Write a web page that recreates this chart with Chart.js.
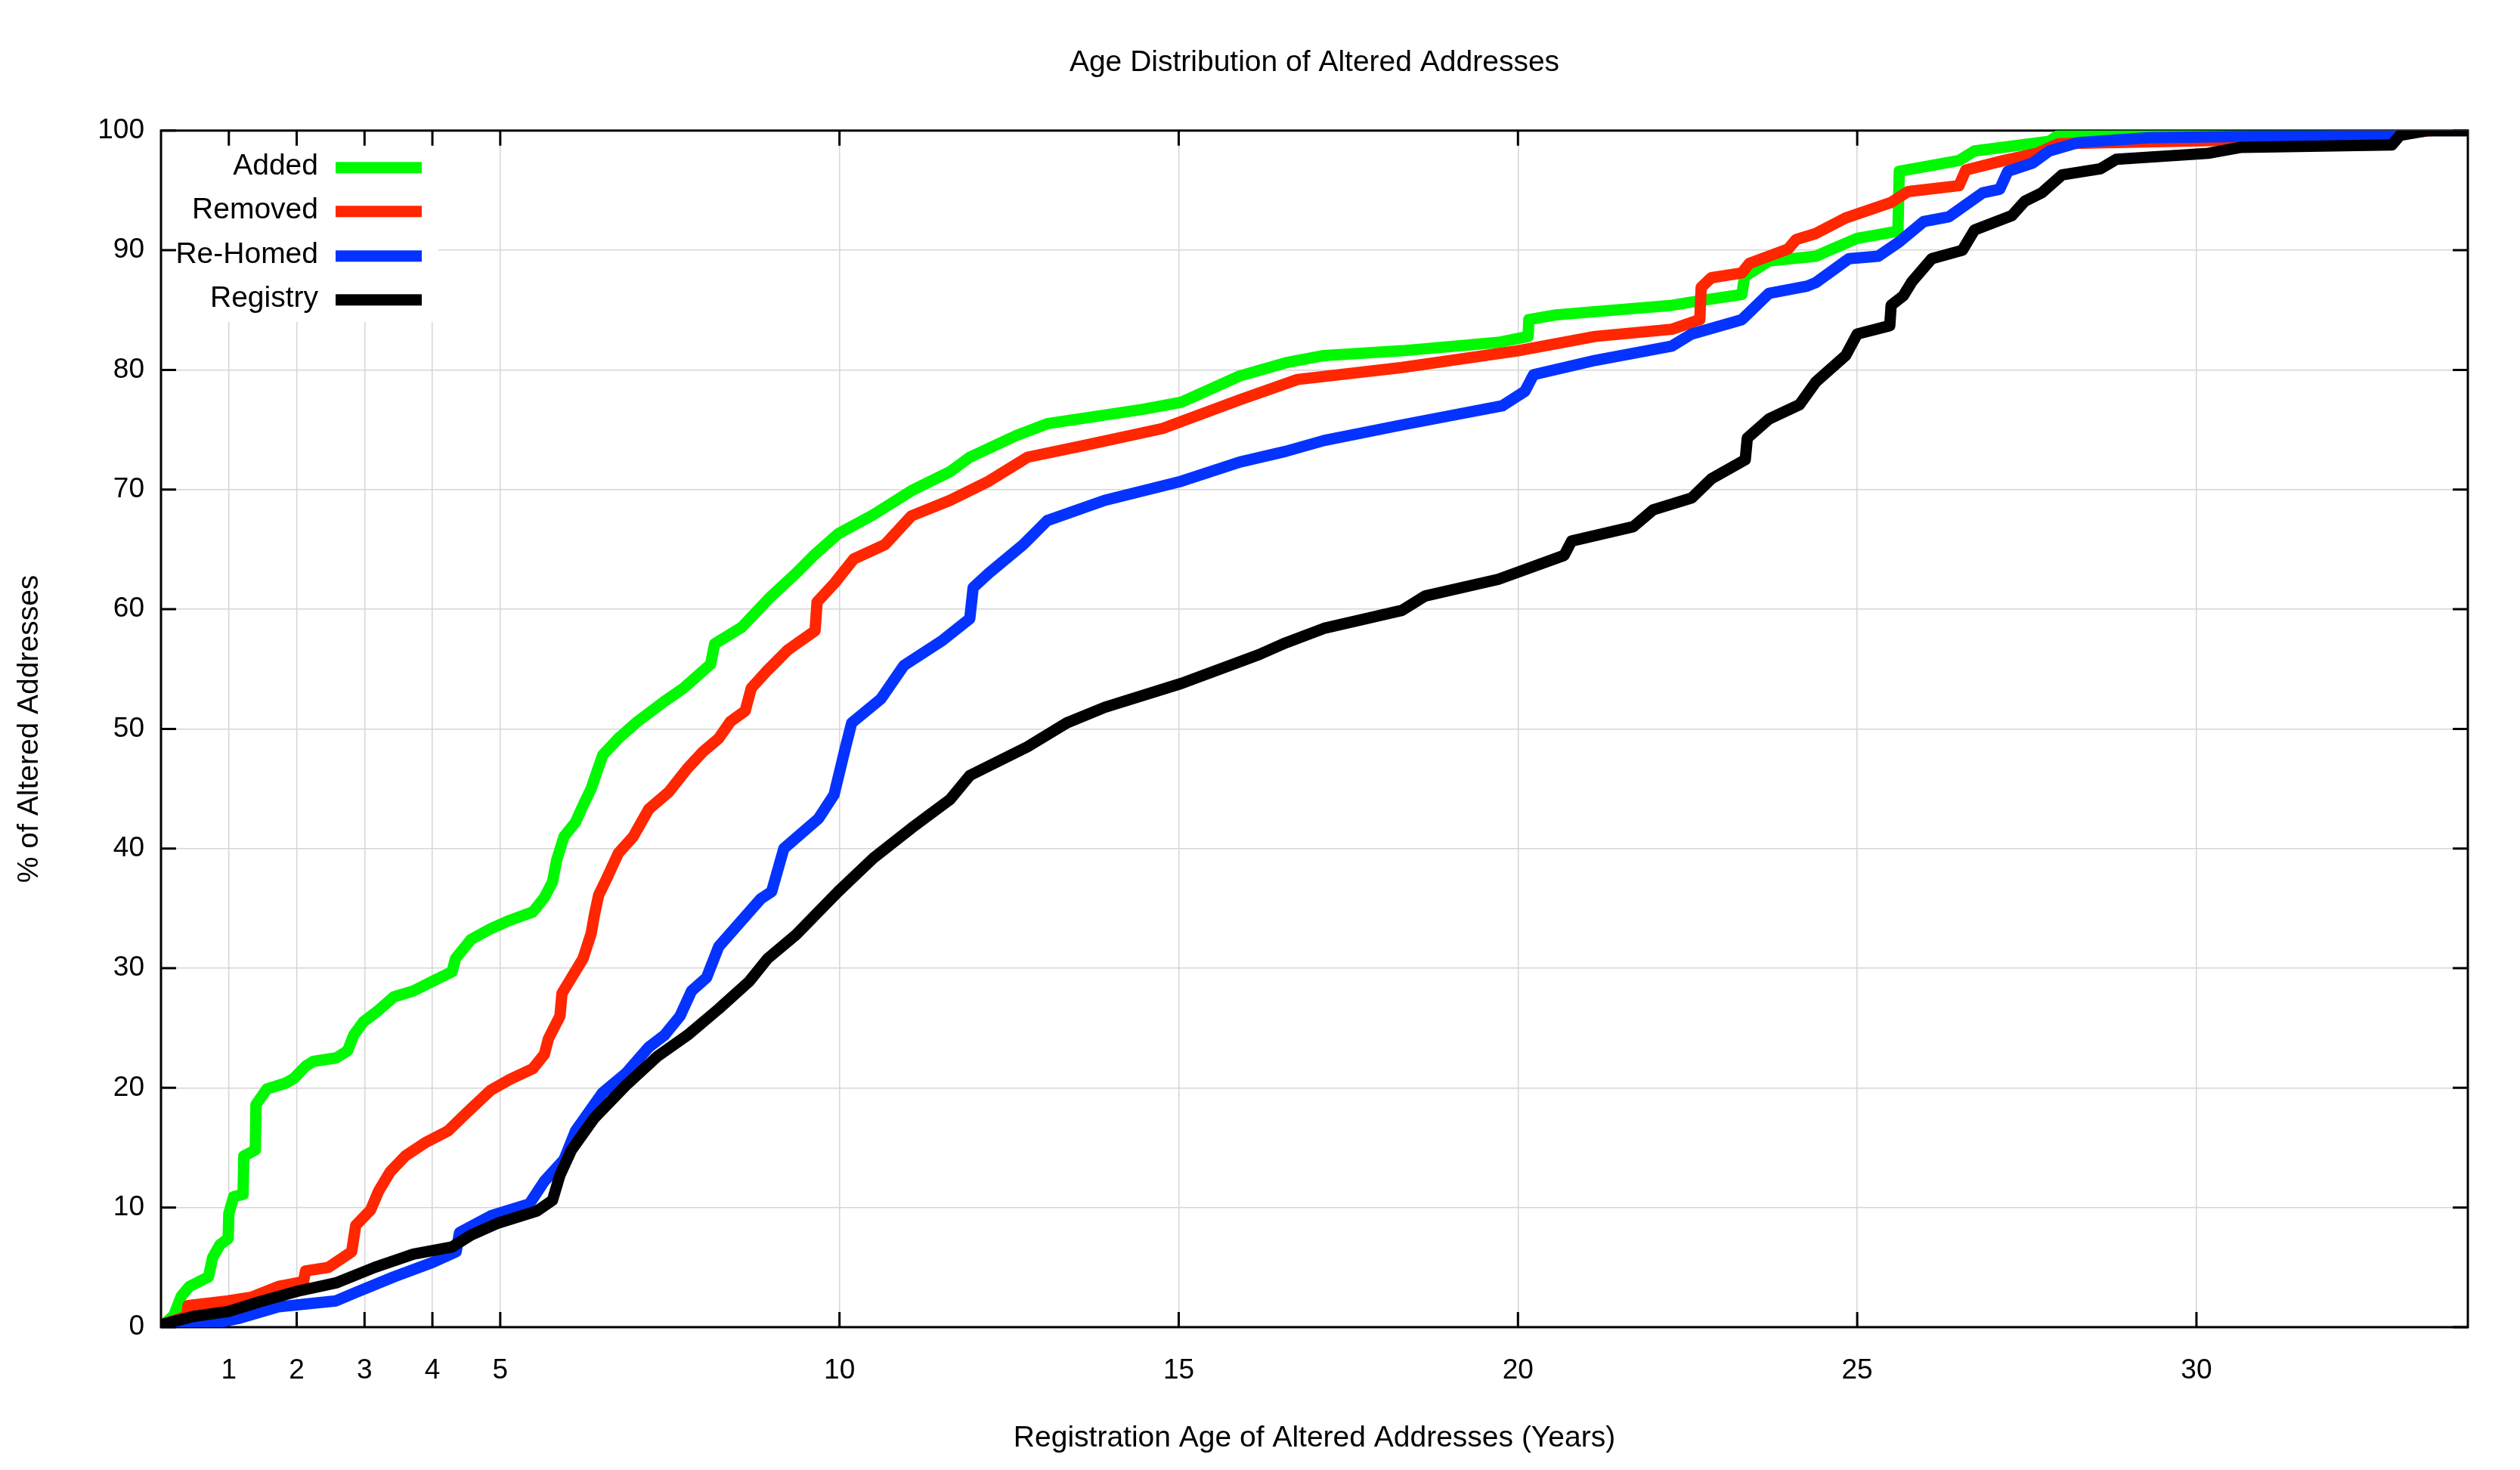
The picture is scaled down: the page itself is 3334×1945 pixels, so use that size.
<!DOCTYPE html>
<html>
<head>
<meta charset="utf-8">
<title>Age Distribution of Altered Addresses</title>
<script src="https://cdn.jsdelivr.net/npm/chart.js@4.4.1/dist/chart.umd.min.js"></script>
<style>
    html, body { margin: 0; padding: 0; background: #fff; }
    canvas { display: block; }
</style>
</head>
<body>
<canvas id="grafico" width="3334" height="1945"></canvas>
<script>
// ==========================
// DADOS
// ==========================
const xTicks = [1, 2, 3, 4, 5, 10, 15, 20, 25, 30];

const addedAge = [0, 0.19, 0.3, 0.42, 0.7, 0.76, 0.87, 0.99, 1.0, 1.07, 1.21, 1.22, 1.39, 1.4, 1.56, 1.84, 1.96, 2.13, 2.24, 2.58, 2.75, 2.84, 2.98, 3.21, 3.43, 3.72, 4.0, 4.29, 4.34, 4.57, 4.86, 5.14, 5.48, 5.65, 5.77, 5.83, 5.94, 6.11, 6.22, 6.34, 6.51, 6.74, 7.02, 7.42, 7.7, 8.1, 8.16, 8.56, 8.96, 9.36, 9.64, 9.98, 10.5, 11.06, 11.63, 11.92, 12.6, 13.06, 14.47, 15.04, 15.9, 16.58, 17.14, 18.29, 19.71, 20.15, 20.16, 20.56, 22.27, 22.7, 23.3, 23.34, 23.7, 24.39, 24.55, 25.0, 25.6, 25.62, 26.5, 26.73, 27.83, 27.96, 29.3, 31.0, 34];
const addedPct = [0, 1.0, 2.6, 3.4, 4.2, 5.8, 6.9, 7.4, 9.5, 10.9, 11.1, 14.3, 14.8, 18.6, 19.9, 20.4, 20.8, 21.8, 22.2, 22.5, 23.1, 24.4, 25.5, 26.5, 27.6, 28.1, 28.9, 29.7, 30.8, 32.4, 33.3, 34.0, 34.7, 35.9, 37.2, 39.0, 41.0, 42.2, 43.6, 45.0, 47.8, 49.2, 50.6, 52.3, 53.4, 55.4, 57.1, 58.5, 60.9, 63.0, 64.6, 66.3, 67.9, 69.9, 71.5, 72.7, 74.5, 75.5, 76.7, 77.3, 79.5, 80.6, 81.2, 81.6, 82.3, 82.8, 84.2, 84.6, 85.4, 85.8, 86.3, 87.8, 89.1, 89.5, 89.9, 91.0, 91.6, 96.6, 97.5, 98.3, 99.1, 99.6, 99.8, 100, 100];

const removedAge = [0, 0.3, 0.38, 0.4, 0.99, 1.33, 1.73, 2.1, 2.13, 2.47, 2.81, 2.87, 3.09, 3.21, 3.38, 3.6, 3.89, 4.23, 4.52, 4.86, 5.14, 5.48, 5.65, 5.71, 5.88, 5.91, 6.05, 6.22, 6.34, 6.39, 6.45, 6.57, 6.74, 6.96, 7.19, 7.48, 7.76, 7.99, 8.22, 8.39, 8.61, 8.7, 8.94, 9.24, 9.64, 9.67, 9.93, 10.21, 10.67, 11.06, 11.63, 12.2, 12.77, 13.62, 14.76, 15.9, 16.75, 18.29, 20.0, 21.14, 22.27, 22.68, 22.7, 22.85, 23.3, 23.41, 23.98, 24.1, 24.39, 24.83, 25.5, 25.75, 26.5, 26.6, 27.16, 27.65, 27.96, 28.7, 30.5, 33.0, 33.5, 34];
const removedPct = [0.2, 0.75, 1.0, 1.8, 2.2, 2.5, 3.4, 3.8, 4.7, 5.0, 6.3, 8.5, 9.8, 11.4, 13.0, 14.3, 15.4, 16.4, 18.0, 19.8, 20.7, 21.6, 22.8, 24.1, 26.0, 27.9, 29.2, 30.8, 32.9, 34.5, 36.1, 37.5, 39.6, 41.0, 43.3, 44.7, 46.7, 48.1, 49.2, 50.6, 51.5, 53.4, 54.9, 56.6, 58.2, 60.6, 62.2, 64.2, 65.4, 67.8, 69.1, 70.7, 72.7, 73.7, 75.1, 77.5, 79.2, 80.2, 81.6, 82.8, 83.4, 84.2, 86.9, 87.7, 88.1, 88.9, 90.1, 90.9, 91.4, 92.7, 94.0, 94.9, 95.4, 96.7, 97.5, 98.1, 98.9, 99.0, 99.2, 99.8, 100, 100];

const rehomedAge = [0, 0.59, 1.16, 1.73, 2.58, 2.87, 3.43, 4.0, 4.35, 4.4, 4.86, 5.43, 5.65, 5.94, 6.11, 6.51, 6.85, 7.19, 7.42, 7.65, 7.82, 8.04, 8.22, 8.56, 8.84, 9.0, 9.18, 9.69, 9.92, 10.09, 10.18, 10.61, 10.95, 11.52, 11.92, 11.97, 12.2, 12.71, 13.06, 13.91, 15.04, 15.9, 16.58, 17.14, 18.29, 19.77, 20.1, 20.23, 21.14, 22.27, 22.56, 23.3, 23.7, 24.26, 24.39, 24.88, 25.31, 25.62, 25.98, 26.35, 26.85, 27.1, 27.22, 27.59, 27.83, 28.26, 29.3, 30.5, 32.7, 33.3, 34];
const rehomedPct = [0, 0.1, 0.75, 1.7, 2.2, 2.9, 4.2, 5.4, 6.3, 7.9, 9.3, 10.3, 12.2, 14.0, 16.4, 19.6, 21.2, 23.4, 24.4, 26.0, 28.1, 29.2, 31.8, 34.0, 35.8, 36.4, 40.0, 42.5, 44.5, 48.5, 50.5, 52.5, 55.3, 57.4, 59.2, 61.8, 63.0, 65.4, 67.4, 69.1, 70.7, 72.3, 73.2, 74.1, 75.4, 77.0, 78.2, 79.6, 80.8, 82.0, 83.0, 84.2, 86.4, 87.0, 87.3, 89.3, 89.5, 90.7, 92.4, 92.8, 94.8, 95.1, 96.6, 97.3, 98.3, 99.0, 99.4, 99.5, 99.6, 100, 100];

const registryAge = [0, 0.48, 0.99, 1.44, 2.01, 2.58, 3.15, 3.72, 4.29, 4.57, 4.97, 5.54, 5.77, 5.88, 6.05, 6.39, 6.85, 7.31, 7.76, 8.22, 8.67, 8.94, 9.36, 9.98, 10.5, 11.06, 11.63, 11.92, 12.77, 13.35, 13.91, 15.04, 16.18, 16.58, 17.14, 18.29, 18.63, 19.71, 20.68, 20.79, 21.7, 21.99, 22.56, 22.85, 23.35, 23.38, 23.7, 24.15, 24.39, 24.55, 24.83, 25.0, 25.48, 25.5, 25.68, 25.81, 26.1, 26.55, 26.73, 27.28, 27.47, 27.72, 28.02, 28.58, 28.82, 30.17, 30.66, 32.88, 33.0, 33.4, 34];
const registryPct = [0.2, 0.9, 1.3, 2.1, 3.0, 3.7, 5.0, 6.1, 6.7, 7.7, 8.7, 9.7, 10.6, 12.7, 14.8, 17.5, 20.2, 22.6, 24.4, 26.6, 28.9, 30.8, 32.8, 36.4, 39.2, 41.7, 44.1, 46.1, 48.5, 50.5, 51.8, 53.8, 56.2, 57.2, 58.4, 59.9, 61.1, 62.5, 64.5, 65.7, 66.9, 68.3, 69.3, 70.9, 72.5, 74.3, 75.9, 77.1, 79.0, 79.8, 81.2, 83.0, 83.7, 85.4, 86.2, 87.4, 89.3, 90.0, 91.7, 92.9, 94.1, 94.8, 96.3, 96.8, 97.6, 98.1, 98.6, 98.8, 99.6, 100, 100];

const FONTE = "'Liberation Sans', Arial, Helvetica, sans-serif";
const TAM = 39;
const TAM_TICK = 37;

function pontos(idades, valores) {
    return idades.map((x, i) => ({ x: x, y: valores[i] }));
}

function serie(label, idades, valores, cor, ordem) {
    return {
        label: label,
        data: pontos(idades, valores),
        borderColor: cor,
        backgroundColor: cor,
        borderWidth: 15,
        borderJoinStyle: "round",
        borderCapStyle: "round",
        pointRadius: 0,
        tension: 0,
        fill: false,
        order: ordem
    };
}

// ==========================
// MOLDURA, TICKS E LEGENDA
// ==========================
const moldura = {
    id: "moldura",
    beforeDatasetsDraw(chart) {
        const { ctx, chartArea: a, scales: { x, y } } = chart;
        ctx.save();

        // caixa da legenda (fundo branco por cima da grade)
        ctx.fillStyle = "#fff";
        ctx.fillRect(a.left + 2, a.top + 2, 365, 251);

        ctx.font = TAM + "px " + FONTE;
        ctx.textAlign = "right";
        ctx.textBaseline = "middle";
        const linhas = [49, 107, 166, 224];
        chart.data.datasets.forEach((d, i) => {
            const py = a.top + linhas[i];
            ctx.fillStyle = "#000";
            ctx.fillText(d.label, a.left + 208, py - 2);
            ctx.fillStyle = d.borderColor;
            ctx.fillRect(a.left + 231, py - 7.5, 114, 15);
        });

        // ticks para dentro nos quatro lados
        ctx.strokeStyle = "#000";
        ctx.lineWidth = 3;
        ctx.beginPath();
        xTicks.forEach(v => {
            const px = x.getPixelForValue(v);
            ctx.moveTo(px, a.bottom);
            ctx.lineTo(px, a.bottom - 20);
            ctx.moveTo(px, a.top);
            ctx.lineTo(px, a.top + 20);
        });
        y.ticks.forEach(t => {
            const py = y.getPixelForValue(t.value);
            ctx.moveTo(a.left, py);
            ctx.lineTo(a.left + 20, py);
            ctx.moveTo(a.right, py);
            ctx.lineTo(a.right - 20, py);
        });
        ctx.stroke();
        ctx.strokeRect(a.left, a.top, a.right - a.left, a.bottom - a.top);
        ctx.restore();
    }
};

// ==========================
// GRAFICO
// ==========================
const ctx = document.getElementById("grafico");

new Chart(ctx, {
    type: "line",
    data: {
        datasets: [
            serie("Added", addedAge, addedPct, "#00f900", 4),
            serie("Removed", removedAge, removedPct, "#ff2600", 3),
            serie("Re-Homed", rehomedAge, rehomedPct, "#0433ff", 2),
            serie("Registry", registryAge, registryPct, "#000000", 1)
        ]
    },
    options: {
        responsive: false,
        devicePixelRatio: 1,
        animation: false,
        layout: {
            padding: { left: 0, right: 69, top: 0, bottom: 0 }
        },
        plugins: {
            legend: { display: false },
            tooltip: { enabled: false },
            title: {
                display: true,
                fullSize: false,
                text: "Age Distribution of Altered Addresses",
                color: "#000",
                font: { family: FONTE, size: TAM, weight: "normal" },
                padding: { top: 60, bottom: 66 }
            }
        },
        scales: {
            x: {
                type: "linear",
                min: 0,
                max: 34,
                afterBuildTicks: s => {
                    s.ticks = xTicks.map(v => ({ value: v }));
                },
                afterFit: s => {
                    s.height = 189;
                },
                border: { display: false },
                grid: { color: "#d6d6d6", lineWidth: 1.5, drawTicks: false },
                ticks: {
                    color: "#000",
                    font: { family: FONTE, size: TAM_TICK },
                    padding: 36,
                    maxRotation: 0,
                    autoSkip: false
                },
                title: {
                    display: true,
                    text: "Registration Age of Altered Addresses (Years)",
                    color: "#000",
                    font: { family: FONTE, size: TAM },
                    padding: { top: 0, bottom: 18 }
                }
            },
            y: {
                min: 0,
                max: 100,
                afterFit: s => {
                    s.width = 213;
                },
                border: { display: false },
                grid: { color: "#d6d6d6", lineWidth: 1.5, drawTicks: false },
                ticks: {
                    stepSize: 10,
                    color: "#000",
                    font: { family: FONTE, size: TAM_TICK },
                    padding: 22
                },
                title: {
                    display: true,
                    text: "% of Altered Addresses",
                    color: "#000",
                    font: { family: FONTE, size: TAM },
                    padding: { top: 16, bottom: 0 }
                }
            }
        }
    },
    plugins: [moldura]
});
</script>
</body>
</html>
